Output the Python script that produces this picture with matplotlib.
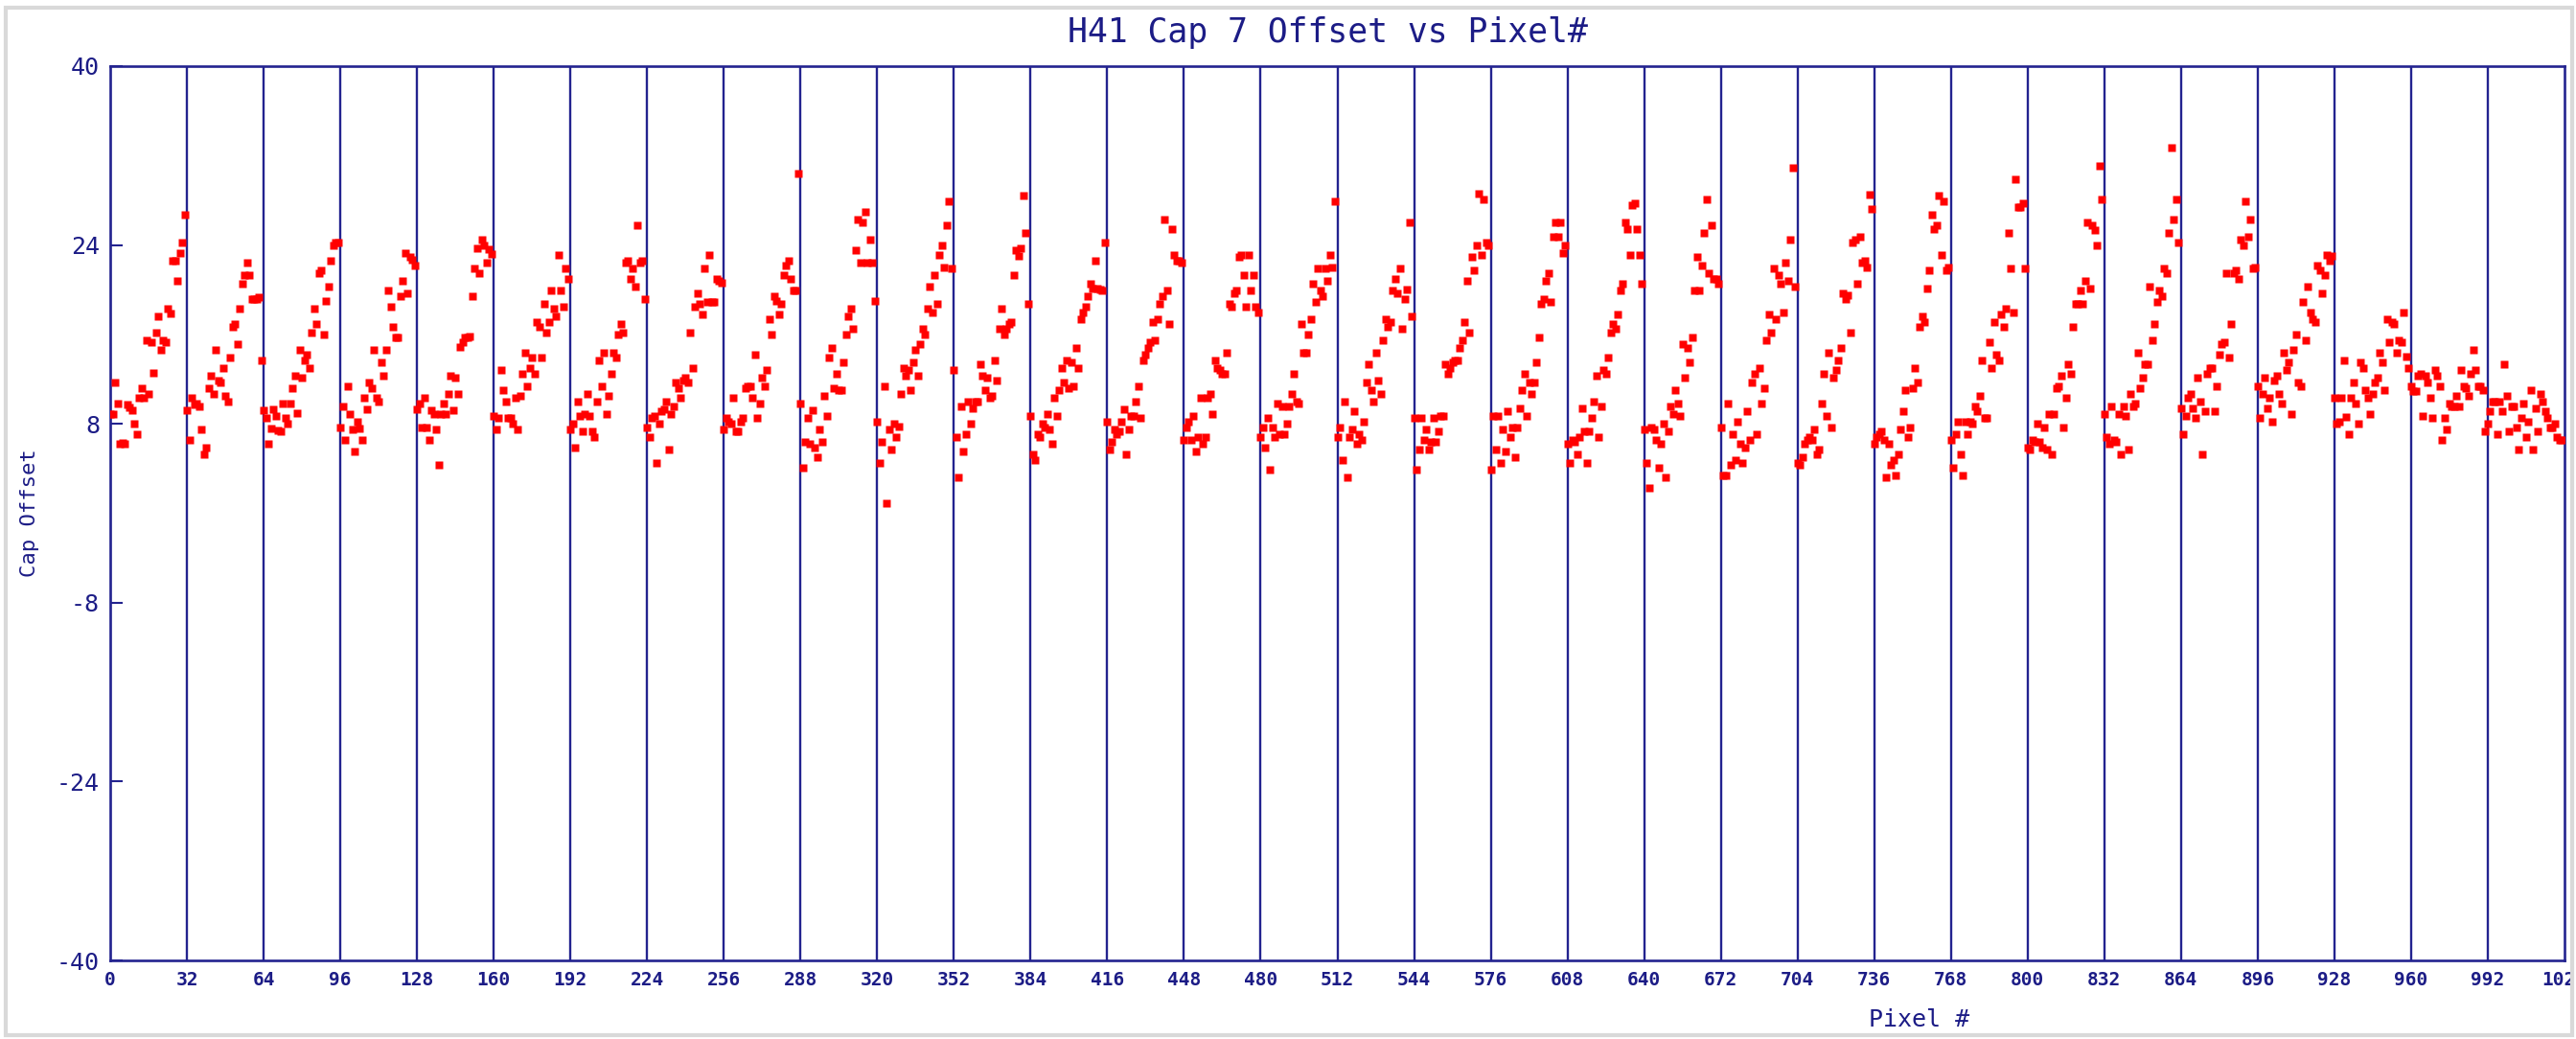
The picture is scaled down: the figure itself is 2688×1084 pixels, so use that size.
import numpy as np
import matplotlib
matplotlib.use('Agg')
import matplotlib.pyplot as plt
from matplotlib.patches import Rectangle

# cap offset per pixel, one list per 32-pixel block
b00 = [8.9, 8.9, 11.7, 9.8, 6.2, 6.3, 6.2, 9.7, 9.5, 9.2, 8.0, 7.1, 10.3, 11.2, 10.3, 15.5, 10.7, 15.3, 12.6, 16.2, 17.6, 14.6, 15.5, 15.3, 18.3, 17.9, 22.6, 22.6, 20.8, 23.3, 24.2, 26.7]
b01 = [9.2, 6.6, 10.3, 9.7, 9.8, 9.6, 7.5, 5.3, 5.9, 11.2, 12.3, 10.7, 14.6, 11.9, 11.7, 13.0, 10.5, 10.0, 13.9, 16.7, 16.9, 15.1, 18.3, 20.5, 21.3, 22.4, 21.3, 19.2, 19.2, 19.2, 19.3, 13.7]
b02 = [9.2, 8.5, 6.2, 7.6, 9.3, 8.7, 7.4, 7.3, 9.8, 8.5, 8.0, 9.8, 11.2, 12.3, 9.0, 14.6, 12.1, 13.7, 14.2, 13.0, 16.2, 18.3, 16.9, 21.5, 21.7, 16.0, 19.0, 20.3, 22.6, 24.0, 24.2, 24.2]
b03 = [7.7, 9.6, 6.6, 11.4, 8.9, 7.5, 5.5, 8.2, 7.6, 6.6, 10.3, 9.3, 11.7, 11.2, 14.6, 10.3, 10.0, 13.5, 12.3, 14.6, 19.9, 18.5, 16.7, 15.7, 15.7, 19.4, 20.8, 23.3, 19.7, 22.9, 22.7, 22.2]
b04 = [9.3, 9.8, 7.7, 10.3, 7.7, 6.6, 9.2, 8.9, 7.5, 4.3, 8.9, 9.8, 8.9, 10.7, 12.3, 9.2, 12.1, 10.7, 14.9, 15.3, 15.7, 15.7, 15.8, 19.4, 21.9, 23.7, 21.5, 24.5, 24.0, 22.4, 23.6, 23.2]
b05 = [8.7, 7.5, 8.5, 12.8, 11.0, 10.0, 8.5, 8.5, 8.0, 10.3, 7.5, 10.5, 12.5, 14.4, 11.4, 13.0, 13.9, 12.5, 17.1, 16.7, 13.9, 18.7, 16.2, 17.1, 19.9, 18.3, 17.6, 23.1, 19.9, 18.5, 21.9, 21.0]
b06 = [7.5, 8.0, 5.9, 10.0, 8.7, 7.3, 8.9, 10.7, 8.7, 7.3, 6.8, 10.0, 13.7, 11.4, 14.4, 8.9, 10.5, 12.5, 14.4, 13.9, 16.0, 16.9, 16.2, 22.4, 22.6, 21.0, 21.9, 20.3, 25.8, 22.4, 22.6, 19.2]
b07 = [7.7, 6.8, 8.5, 8.7, 4.5, 8.0, 9.1, 9.3, 10.0, 5.7, 8.9, 9.6, 11.7, 11.2, 10.3, 11.9, 12.1, 11.7, 16.2, 13.0, 18.5, 19.7, 18.7, 17.8, 21.9, 18.9, 23.1, 18.9, 18.9, 21.0, 20.8, 20.6]
b08 = [7.5, 8.5, 8.2, 8.0, 10.3, 7.3, 7.3, 8.2, 8.5, 11.2, 11.4, 11.4, 10.3, 14.2, 8.5, 9.8, 12.1, 11.4, 12.8, 17.4, 16.0, 19.4, 19.0, 17.8, 18.7, 21.3, 22.2, 22.6, 21.0, 19.9, 19.9, 30.4]
b09 = [9.8, 4.1, 6.4, 8.5, 6.2, 9.2, 5.9, 5.0, 7.5, 6.4, 10.5, 8.7, 13.9, 14.8, 11.2, 12.5, 11.0, 11.0, 13.5, 16.0, 17.6, 18.3, 16.5, 23.5, 26.3, 22.4, 26.0, 27.0, 22.4, 24.5, 22.4, 19.0]
b10 = [8.2, 4.5, 6.4, 11.4, 0.9, 7.5, 5.7, 8.0, 6.8, 7.8, 10.7, 13.0, 12.3, 12.8, 11.0, 13.5, 14.6, 12.3, 15.1, 16.5, 16.0, 18.3, 20.3, 18.0, 21.3, 18.7, 23.1, 24.0, 22.0, 25.8, 27.9, 21.9]
b11 = [12.8, 6.8, 3.2, 9.6, 5.5, 7.1, 10.0, 8.0, 9.4, 10.0, 10.0, 13.3, 12.3, 11.0, 12.1, 10.3, 10.5, 13.7, 11.9, 16.5, 18.3, 16.0, 16.5, 16.9, 17.1, 21.3, 23.5, 23.0, 23.7, 28.4, 25.1, 18.7]
b12 = [8.7, 5.3, 4.8, 7.1, 6.8, 8.0, 7.7, 8.9, 7.5, 6.2, 10.3, 8.7, 11.0, 13.0, 11.7, 13.7, 11.2, 13.5, 11.4, 14.8, 13.0, 17.4, 18.0, 18.5, 19.4, 20.5, 20.1, 22.6, 20.1, 20.0, 19.9, 24.2]
b13 = [8.2, 5.7, 6.4, 7.5, 7.1, 7.3, 8.2, 9.3, 5.3, 7.5, 8.7, 8.7, 10.0, 11.4, 8.5, 13.7, 14.2, 14.8, 15.3, 17.1, 15.5, 17.4, 18.7, 19.4, 26.3, 19.9, 16.9, 25.4, 23.1, 22.6, 22.6, 22.4]
b14 = [6.6, 7.7, 8.2, 6.6, 8.7, 5.5, 6.8, 10.3, 6.2, 6.8, 10.3, 10.7, 8.9, 13.7, 13.0, 12.8, 12.5, 12.5, 14.4, 18.7, 18.5, 19.7, 19.9, 22.9, 23.1, 21.3, 18.5, 23.1, 19.9, 21.3, 18.5, 18.0]
b15 = [6.8, 7.7, 5.9, 8.5, 3.9, 7.7, 6.8, 9.8, 7.1, 9.6, 7.1, 8.0, 9.6, 10.7, 12.5, 10.0, 9.8, 16.9, 14.4, 14.4, 16.0, 17.4, 20.5, 18.9, 21.9, 19.9, 19.4, 21.9, 20.8, 23.1, 22.0, 27.9]
b16 = [6.8, 7.7, 4.8, 10.0, 3.2, 6.8, 7.5, 9.1, 6.2, 7.1, 6.6, 8.2, 11.7, 13.3, 11.0, 10.0, 14.4, 11.9, 10.7, 15.5, 17.4, 16.7, 17.1, 19.9, 21.0, 19.7, 21.9, 16.5, 19.2, 20.0, 26.0, 17.6]
b17 = [8.5, 3.9, 5.7, 8.5, 6.6, 7.5, 5.7, 6.4, 8.5, 6.4, 7.3, 8.7, 8.7, 13.3, 12.5, 13.0, 13.5, 13.7, 13.7, 14.8, 15.5, 17.1, 20.8, 16.2, 22.9, 21.7, 24.0, 28.6, 23.1, 28.1, 24.2, 24.0]
b18 = [3.9, 8.7, 5.7, 8.7, 4.5, 7.5, 5.5, 9.1, 6.8, 7.7, 5.0, 7.7, 9.4, 11.0, 12.5, 8.7, 11.7, 10.7, 11.7, 13.5, 15.7, 18.7, 19.2, 20.8, 21.5, 18.9, 24.7, 26.0, 24.7, 26.0, 23.3, 24.0]
b19 = [6.2, 4.5, 6.6, 6.4, 5.3, 6.8, 9.4, 7.3, 4.5, 7.3, 8.5, 10.0, 12.3, 6.8, 9.6, 12.8, 12.5, 13.9, 16.2, 16.9, 16.5, 17.8, 19.9, 20.5, 26.0, 25.4, 23.1, 27.6, 27.7, 25.4, 23.1, 20.5]
b20 = [7.5, 4.5, 2.3, 7.7, 7.5, 6.6, 4.1, 6.2, 8.0, 3.2, 7.3, 9.6, 8.9, 11.0, 9.8, 8.7, 15.1, 12.1, 14.8, 13.5, 15.7, 19.9, 22.9, 19.9, 22.2, 25.1, 28.1, 21.5, 25.8, 21.0, 21.0, 20.5]
b21 = [7.7, 3.4, 3.4, 9.8, 4.3, 7.1, 4.8, 8.2, 6.2, 4.5, 5.9, 9.1, 6.6, 11.7, 12.5, 7.1, 13.0, 9.8, 11.2, 15.5, 17.8, 16.2, 21.9, 17.4, 21.3, 20.5, 18.0, 22.4, 20.8, 24.5, 30.9, 20.3]
b22 = [4.5, 4.3, 5.0, 6.2, 6.6, 6.8, 6.6, 7.5, 5.3, 5.7, 9.8, 12.5, 8.7, 14.4, 7.7, 12.1, 12.8, 13.7, 14.8, 19.7, 19.2, 19.5, 16.2, 24.2, 24.5, 20.5, 24.7, 22.4, 22.6, 22.0, 28.5, 27.2]
b23 = [6.2, 6.8, 7.1, 7.3, 6.6, 3.2, 6.2, 4.3, 4.8, 3.4, 5.3, 7.5, 9.1, 11.0, 6.8, 7.7, 11.2, 13.0, 11.7, 16.7, 17.6, 17.1, 20.1, 21.7, 26.7, 25.4, 25.8, 28.4, 23.1, 27.9, 21.7, 22.0]
b24 = [6.6, 4.1, 7.1, 8.2, 5.3, 3.4, 8.2, 7.1, 8.2, 8.0, 9.6, 9.1, 10.5, 13.7, 8.5, 8.5, 15.3, 13.0, 17.1, 14.2, 13.7, 17.8, 16.7, 18.3, 25.1, 21.9, 18.0, 29.9, 27.4, 27.4, 27.7, 21.9]
b25 = [5.9, 5.7, 6.6, 6.4, 8.0, 6.4, 5.9, 7.7, 5.7, 8.9, 5.3, 8.9, 11.2, 11.4, 12.3, 7.7, 10.3, 13.3, 12.5, 16.7, 18.7, 18.7, 19.9, 18.7, 20.8, 26.0, 20.1, 25.8, 25.3, 24.0, 31.1, 28.1]
b26 = [8.9, 6.8, 6.2, 9.6, 6.6, 6.4, 8.9, 5.3, 9.6, 8.7, 5.7, 10.7, 9.6, 9.8, 14.4, 11.2, 12.1, 13.3, 13.3, 20.3, 15.5, 16.9, 18.9, 19.9, 19.4, 21.9, 21.5, 25.1, 32.7, 26.3, 28.1, 24.2]
b27 = [9.4, 7.1, 8.7, 10.3, 10.7, 9.4, 8.5, 12.1, 10.0, 5.3, 9.1, 12.5, 13.0, 13.0, 9.1, 11.4, 14.2, 15.1, 15.3, 21.5, 13.9, 16.9, 21.5, 21.7, 21.0, 24.5, 24.0, 27.9, 24.7, 26.3, 21.9, 22.0]
b28 = [11.4, 8.5, 10.7, 12.1, 9.4, 10.3, 8.2, 11.9, 12.3, 10.7, 9.8, 14.4, 12.8, 13.5, 8.9, 14.6, 16.0, 11.7, 11.4, 18.9, 15.5, 20.3, 18.0, 17.4, 17.1, 22.2, 21.7, 19.7, 21.3, 23.1, 22.6, 23.0]
b29 = [10.3, 8.0, 8.2, 10.3, 13.7, 8.6, 7.1, 10.3, 11.7, 9.8, 8.0, 13.5, 13.0, 11.0, 10.3, 8.9, 10.7, 11.7, 12.1, 14.4, 13.5, 11.0, 17.4, 15.3, 17.1, 16.9, 14.4, 15.5, 15.3, 18.0, 14.0, 13.0]
b30 = [11.4, 10.9, 10.9, 12.3, 12.5, 8.7, 12.3, 11.7, 10.3, 8.5, 12.8, 12.3, 11.4, 6.6, 8.5, 7.5, 9.8, 9.6, 9.6, 10.5, 9.6, 12.8, 11.4, 11.2, 10.5, 12.5, 14.6, 12.8, 11.4, 11.4, 11.0, 7.3]
b31 = [8.0, 9.1, 10.0, 10.0, 7.1, 10.0, 9.1, 13.3, 10.5, 7.3, 9.6, 9.6, 7.7, 5.7, 8.5, 9.8, 6.8, 8.2, 11.0, 5.7, 9.4, 7.3, 10.7, 10.0, 9.1, 8.5, 7.7, 7.7, 8.0, 6.8, 6.6, 6.6]

blocks = [b00, b01, b02, b03, b04, b05, b06, b07, b08, b09, b10, b11, b12, b13, b14, b15,
          b16, b17, b18, b19, b20, b21, b22, b23, b24, b25, b26, b27, b28, b29, b30, b31]

x_ticks = list(range(0, 1025, 32))
y_ticks = [40, 24, 8, -8, -24, -40]

NAVY = '#23238f'
TXT = '#1c1c86'
MONO = 'DejaVu Sans Mono'

fig = plt.figure(figsize=(26.88, 10.84), dpi=100)
ax = fig.add_axes([115 / 2688, 1 - 1002 / 1084, (2676 - 115) / 2688, (1002 - 69) / 1084])

for k, vals in enumerate(blocks):
    xs = k * 32 + np.arange(len(vals))
    ax.plot(xs, vals, 's', color='#ff0000', ms=5.2, mec='none', zorder=3)

for xv in x_ticks[1:-1]:
    ax.axvline(xv, color=NAVY, lw=1.7, zorder=2)

ax.set_xlim(0, 1024)
ax.set_ylim(-40, 40)
for s in ax.spines.values():
    s.set_color(NAVY)
    s.set_linewidth(1.9)

ax.set_yticks(y_ticks)
ax.set_yticklabels([str(v) for v in y_ticks], family=MONO, fontsize=18, color=TXT)
ax.tick_params(axis='y', direction='in', length=9, width=1.5, color=NAVY, pad=8)
ax.set_xticks(x_ticks)
ax.set_xticklabels([str(v) for v in x_ticks], family=MONO, fontsize=14, color=TXT, weight='bold')
ax.tick_params(axis='x', length=0, pad=8)
for lab in ax.get_xticklabels():
    lab.set_clip_on(False)

fig.text(1385 / 2688, 1 - 34 / 1084, 'H41 Cap 7 Offset vs Pixel#', family=MONO, fontsize=25,
         color=TXT, ha='center', va='center')
fig.text(31 / 2688, 1 - 535 / 1084, 'Cap Offset', family=MONO, fontsize=16, color=TXT,
         rotation=90, ha='center', va='center')
fig.text(2002 / 2688, 1 - 1064 / 1084, 'Pixel #', family=MONO, fontsize=18, color=TXT,
         ha='center', va='center')

# light grey frame round the whole picture
fig.patches.append(Rectangle((6 / 2688, 4 / 1084), 1 - 10 / 2688, 1 - 12 / 1084,
                             transform=fig.transFigure, fill=False, ec='#d9d9d9', lw=3))

fig.savefig('out.png', dpi=100)
